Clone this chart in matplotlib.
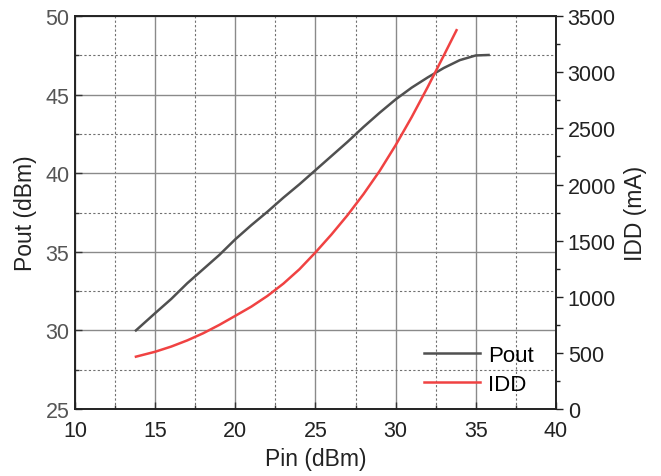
import matplotlib
matplotlib.use("Agg")
import matplotlib.pyplot as plt
from matplotlib.ticker import MultipleLocator

plt.rcParams['font.family'] = ['Liberation Sans', 'DejaVu Sans']

pin_pout = [13.8, 15, 16, 17, 18, 19, 20, 21, 22, 23, 24, 25, 26, 27, 28, 29,
            30, 31, 32, 33, 34, 35, 35.8]
pout = [30.0, 31.1, 32.0, 33.0, 33.9, 34.8, 35.8, 36.7, 37.55, 38.45, 39.3, 40.2,
        41.1, 42.0, 42.95, 43.85, 44.7, 45.45, 46.1, 46.7, 47.2, 47.5, 47.53]

pin_idd = [13.8, 15, 16, 17, 18, 19, 20, 21, 22, 23, 24, 25, 26, 27, 28, 29,
           30, 31, 32, 33, 33.8]
idd = [466, 510, 556, 611, 675, 749, 830, 912, 1007, 1117, 1245, 1395, 1555,
       1727, 1915, 2120, 2350, 2600, 2868, 3148, 3375]

fig = plt.figure(figsize=(6.61, 4.77), dpi=100)

ax = fig.add_axes([0.1135, 0.1405, 0.7275, 0.8235])
ax.set_zorder(2)

ax.set_xlim(10, 40)
ax.set_ylim(25, 50)
ax.xaxis.set_major_locator(MultipleLocator(5))
ax.xaxis.set_minor_locator(MultipleLocator(2.5))
ax.yaxis.set_major_locator(MultipleLocator(5))
ax.yaxis.set_minor_locator(MultipleLocator(2.5))

ax.grid(which='major', color='#8a8a8a', lw=1.0, ls='-')
ax.grid(which='minor', color='#707070', lw=0.8, ls=(0, (2, 2)))
ax.set_axisbelow(True)

l1, = ax.plot(pin_pout, pout, color='#505050', lw=1.8, label='Pout', zorder=3)

ax.tick_params(axis='both', which='both', direction='in', top=False, right=False,
               labelsize=15.5, colors='#333333')
ax.tick_params(axis='both', which='major', length=5, width=1)
ax.tick_params(axis='both', which='minor', length=3, width=1)
ax.tick_params(axis='y', labelcolor='#555555', pad=4)
ax.tick_params(axis='x', labelcolor='#222222', pad=8)
for s in ax.spines.values():
    s.set_color('#222222')
    s.set_linewidth(1.2)

ax.set_xlabel('Pin (dBm)', fontsize=16.5, color='#222222', labelpad=4)
ax.set_ylabel('Pout (dBm)', fontsize=16.5, color='#222222', labelpad=6)

ax2 = ax.twinx()
ax2.set_ylim(0, 3500)
ax2.yaxis.set_major_locator(MultipleLocator(500))
ax2.yaxis.set_minor_locator(MultipleLocator(250))
ax2.tick_params(axis='y', which='both', direction='out', labelsize=15.5, colors='#222222')
ax2.tick_params(axis='y', which='major', length=5, width=1)
ax2.tick_params(axis='y', which='minor', length=3, width=1)
for s in ax2.spines.values():
    s.set_color('#222222')
    s.set_linewidth(1.2)
l2, = ax2.plot(pin_idd, idd, color='#f04242', lw=1.8, label='IDD', zorder=3)
ax2.set_ylabel('IDD (mA)', fontsize=16.5, color='#222222', labelpad=6)

leg = ax2.legend(handles=[l1, l2], loc='lower right', bbox_to_anchor=(0.995, -0.015),
                 frameon=False, fontsize=16, handlelength=2.5, handletextpad=0.35,
                 labelspacing=0.35)

fig.savefig('out.png', dpi=100)
